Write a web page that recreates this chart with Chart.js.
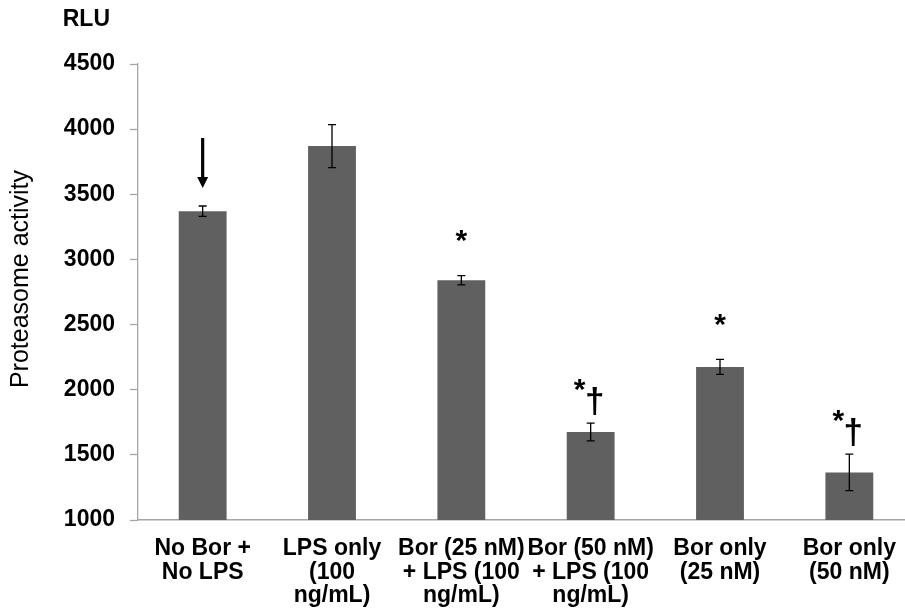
<!DOCTYPE html>
<html>
<head>
<meta charset="utf-8">
<script src="https://cdn.jsdelivr.net/npm/chart.js@4"></script>
<style>
html, body { margin: 0; padding: 0; background: #fff; overflow: hidden; }
</style>
</head>
<body>
<canvas id="chart" width="914" height="611"></canvas>
<script>
// *** data for display ***
const LABELS = [
    ["No Bor +", "No LPS"],
    ["LPS only", "(100", "ng/mL)"],
    ["Bor (25 nM)", "+ LPS (100", "ng/mL)"],
    ["Bor (50 nM)", "+ LPS (100", "ng/mL)"],
    ["Bor only", "(25 nM)"],
    ["Bor only", "(50 nM)"]
];
const ACTIVITY = [3370, 3870, 2840, 1675, 2175, 1365];
const ERRORS = [40, 165, 35, 68, 58, 140];
// arrow = reference group, * = vs LPS only, † = vs Bor (25 nM)
const MARKS = ["arrow", "", "*", "*†", "*", "*†"];
const Y_TICKS = { min: 1000, max: 4500, step: 500 };

const AXIS_GREY = "#a6a6a6";

// error bars, significance marks and axis texts
const extras = {
    id: "extras",
    afterDatasetsDraw(chart) {
        const ctx = chart.ctx;
        const x = chart.scales.x;
        const y = chart.scales.y;
        ctx.save();
        ctx.strokeStyle = "#000";
        ctx.fillStyle = "#000";
        ctx.lineWidth = 1.3;
        ACTIVITY.forEach(function (val, i) {
            const cx = x.getPixelForValue(i);
            const top = y.getPixelForValue(val + ERRORS[i]);
            const bot = y.getPixelForValue(val - ERRORS[i]);
            ctx.beginPath();
            ctx.moveTo(cx, top); ctx.lineTo(cx, bot);
            ctx.moveTo(cx - 4, top); ctx.lineTo(cx + 4, top);
            ctx.moveTo(cx - 4, bot); ctx.lineTo(cx + 4, bot);
            ctx.stroke();

            const mark = MARKS[i];
            ctx.textAlign = "center";
            ctx.textBaseline = "middle";
            if (mark === "arrow") {
                const tip = top - 18;
                ctx.save();
                ctx.lineWidth = 3.2;
                ctx.beginPath();
                ctx.moveTo(cx, tip - 50); ctx.lineTo(cx, tip - 8);
                ctx.stroke();
                ctx.beginPath();
                ctx.moveTo(cx - 5.5, tip - 11); ctx.lineTo(cx + 5.5, tip - 11); ctx.lineTo(cx, tip);
                ctx.closePath(); ctx.fill();
                ctx.restore();
            } else if (mark === "*") {
                ctx.font = "bold 30px 'Liberation Sans'";
                ctx.fillText("*", cx, top - 34);
            } else if (mark === "*†") {
                ctx.font = "bold 30px 'Liberation Sans'";
                ctx.fillText("*", cx - 11, top - 32);
                ctx.font = "bold 35px 'Liberation Sans'";
                ctx.fillText("†", cx + 4, top - 20);
            }
        });

        // category labels under the axis
        ctx.font = "bold 23px 'Liberation Sans'";
        ctx.textAlign = "center";
        ctx.textBaseline = "alphabetic";
        LABELS.forEach(function (lines, i) {
            const cx = x.getPixelForValue(i);
            lines.forEach(function (line, k) {
                ctx.fillText(line, cx, x.top + 35 + k * 23.5);
            });
        });

        // unit above the axis
        ctx.font = "bold 23px 'Liberation Sans'";
        ctx.textAlign = "right";
        ctx.textBaseline = "middle";
        ctx.fillText("RLU", y.right - 28, 20);

        // axis title
        ctx.translate(21, 279);
        ctx.rotate(-Math.PI / 2);
        ctx.font = "25px 'Liberation Sans'";
        ctx.textAlign = "center";
        ctx.textBaseline = "middle";
        ctx.fillText("Proteasome activity", 0, 0);
        ctx.restore();
    }
};

const ctx = document.getElementById("chart").getContext("2d");
const chart = new Chart(ctx, {
    type: "bar",
    data: {
        labels: LABELS,
        datasets: [{
            data: ACTIVITY,
            backgroundColor: "#606060",
            borderWidth: 0,
            barPercentage: 0.37,
            categoryPercentage: 1.0
        }]
    },
    options: {
        responsive: false,
        animation: false,
        layout: { padding: { top: 64, right: 0, bottom: 0, left: 0 } },
        plugins: { legend: { display: false }, tooltip: { enabled: false } },
        scales: {
            x: {
                afterFit: function (scale) { scale.height = 91; },
                grid: { display: false },
                border: { color: AXIS_GREY, width: 1.5 },
                ticks: { display: false }
            },
            y: {
                min: Y_TICKS.min,
                max: Y_TICKS.max,
                afterFit: function (scale) { scale.width = 138; },
                grid: { drawOnChartArea: false, color: AXIS_GREY, tickLength: 8, tickWidth: 1.3 },
                border: { color: AXIS_GREY, width: 1.3 },
                ticks: {
                    stepSize: Y_TICKS.step,
                    color: "#000",
                    padding: 15,
                    callback: function (v) { return String(v); },
                    font: { family: "'Liberation Sans'", weight: "bold", size: 23 }
                }
            }
        }
    },
    plugins: [extras]
});
</script>
</body>
</html>
